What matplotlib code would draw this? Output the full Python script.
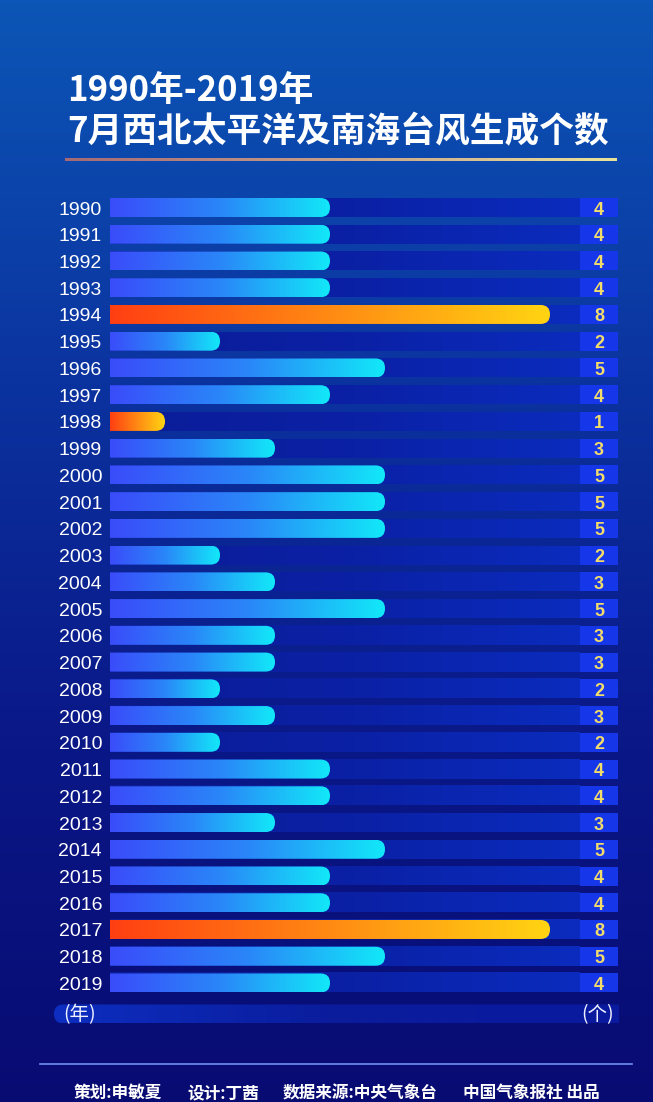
import numpy as np
import matplotlib
matplotlib.use('Agg')
import matplotlib.pyplot as plt
from matplotlib.colors import LinearSegmentedColormap
from matplotlib.patches import FancyBboxPatch, Rectangle

plt.rcParams['font.family'] = ['Noto Sans CJK SC', 'DejaVu Sans']

# data
years = [str(y) for y in range(1990, 2020)]
counts = [4, 4, 4, 4, 8, 2, 5, 4, 1, 3,
          5, 5, 5, 2, 3, 5, 3, 3, 2, 3,
          2, 4, 4, 3, 5, 4, 4, 8, 5, 4]
title_lines = ['1990年-2019年', '7月西北太平洋及南海台风生成个数']
unit_left = '(年)'
unit_right = '(个)'
credits = ['策划:申敏夏', '设计:丁茜', '数据来源:中央气象台', '中国气象报社 出品']

# colours
bg_cmap = LinearSegmentedColormap.from_list('bg', ['#0b56b6', '#0b34a0', '#0a1888', '#080b72'])
blue_cmap = LinearSegmentedColormap.from_list('blue', ['#3a4cfa', '#2a86f8', '#12e8f8'])
orange_cmap = LinearSegmentedColormap.from_list('orange', ['#ff3f12', '#ff8a14', '#ffd412'])
track_cmap = LinearSegmentedColormap.from_list('track', ['#0a1c98', '#0a20a4', '#0b2cbe'])
line_cmap = LinearSegmentedColormap.from_list('line', ['#a56a74', '#c8a088', '#ebe39a'])
band_cmap = LinearSegmentedColormap.from_list('band', ['#0d2ec0', '#0a1c9c', '#0a1aa0'])

W, H = 653, 1102
fig = plt.figure(figsize=(W / 100, H / 100), dpi=100)

# background + decorations in pixel coords
bg = fig.add_axes([0, 0, 1, 1])
grad = np.linspace(0, 1, 256).reshape(-1, 1)
bg.imshow(grad, cmap=bg_cmap, extent=[0, W, H, 0], aspect='auto')
bg.imshow(np.linspace(0, 1, 256).reshape(1, -1), cmap=line_cmap,
          extent=[65, 617, 161.5, 158.5], aspect='auto')

bg.text(67, 91, title_lines[0], fontsize=25, fontweight='bold', color='white',
        ha='left', va='center')
bg.text(67, 132, title_lines[1], fontsize=25, fontweight='bold', color='white',
        ha='left', va='center')

# unit band
band = bg.imshow(np.linspace(0, 1, 256).reshape(1, -1), cmap=band_cmap,
                 extent=[54, 619, 1023.5, 1004.5], aspect='auto')
band_clip = FancyBboxPatch((54, 1004.5), 600, 19, boxstyle='round,pad=0,rounding_size=9.5',
                           facecolor='none', edgecolor='none')
bg.add_patch(band_clip)
band.set_clip_path(band_clip)
bg.text(80, 1015, unit_left, fontsize=14, color='#eef0ff', ha='center', va='center')
bg.text(598, 1015, unit_right, fontsize=14, color='#eef0ff', ha='center', va='center')

# footer
bg.plot([40, 632], [1064, 1064], color='#6f8ff2', lw=1.2)
for x, s in zip([74, 187, 283, 463], credits):
    bg.text(x, 1093, s, fontsize=12, fontweight='bold', color='white',
            ha='left', va='center')
bg.set_xlim(0, W)
bg.set_ylim(H, 0)
bg.axis('off')

# bar chart axes
px_unit = 55.0
x0_px, x1_px = 110, 620
row0_px, row_step = 207.5, 26.74
n = len(years)
top_px = row0_px - 0.5 * row_step
bot_px = row0_px + (n - 0.5) * row_step
ax = fig.add_axes([x0_px / W, 1 - bot_px / H, (x1_px - x0_px) / W, (bot_px - top_px) / H])
ax.patch.set_alpha(0)

xmax = (x1_px - x0_px) / px_unit
box0 = (580 - x0_px) / px_unit
box1 = (618 - x0_px) / px_unit
label_x = (599 - x0_px) / px_unit
h = 19 / row_step
r = 9.4 / px_unit
m_aspect = (9.4 / row_step) / r
dy = 2.5 / row_step  # text nudge

hi = {max(counts), min(counts)}
hgrad = np.linspace(0, 1, 256).reshape(1, -1)
for i, (yr, v) in enumerate(zip(years, counts)):
    ax.imshow(hgrad, cmap=track_cmap, extent=[0, box0, i + h / 2, i - h / 2], aspect='auto')
    ax.add_patch(Rectangle((box0, i - h / 2), box1 - box0, h, color='#1636ea', lw=0))
    cmap = orange_cmap if v in hi else blue_cmap
    im = ax.imshow(hgrad, cmap=cmap, extent=[0, v, i + h / 2, i - h / 2], aspect='auto')
    clip = FancyBboxPatch((-0.5, i - h / 2), v + 0.5, h,
                          boxstyle='round,pad=0,rounding_size=%f' % r,
                          mutation_aspect=m_aspect, facecolor='none', edgecolor='none')
    ax.add_patch(clip)
    im.set_clip_path(clip)
    ax.text(-8 / px_unit, i + dy, yr, fontsize=14, family='Liberation Sans', color='white',
            ha='right', va='center', clip_on=False)
    ax.text(label_x, i + dy, str(v), fontsize=13, family='Liberation Sans', fontweight='bold',
            color='#f3dd6a', ha='center', va='center')

ax.set_xlim(0, xmax)
ax.set_ylim(n - 0.5, -0.5)
ax.axis('off')

fig.savefig('out.png', dpi=100)
